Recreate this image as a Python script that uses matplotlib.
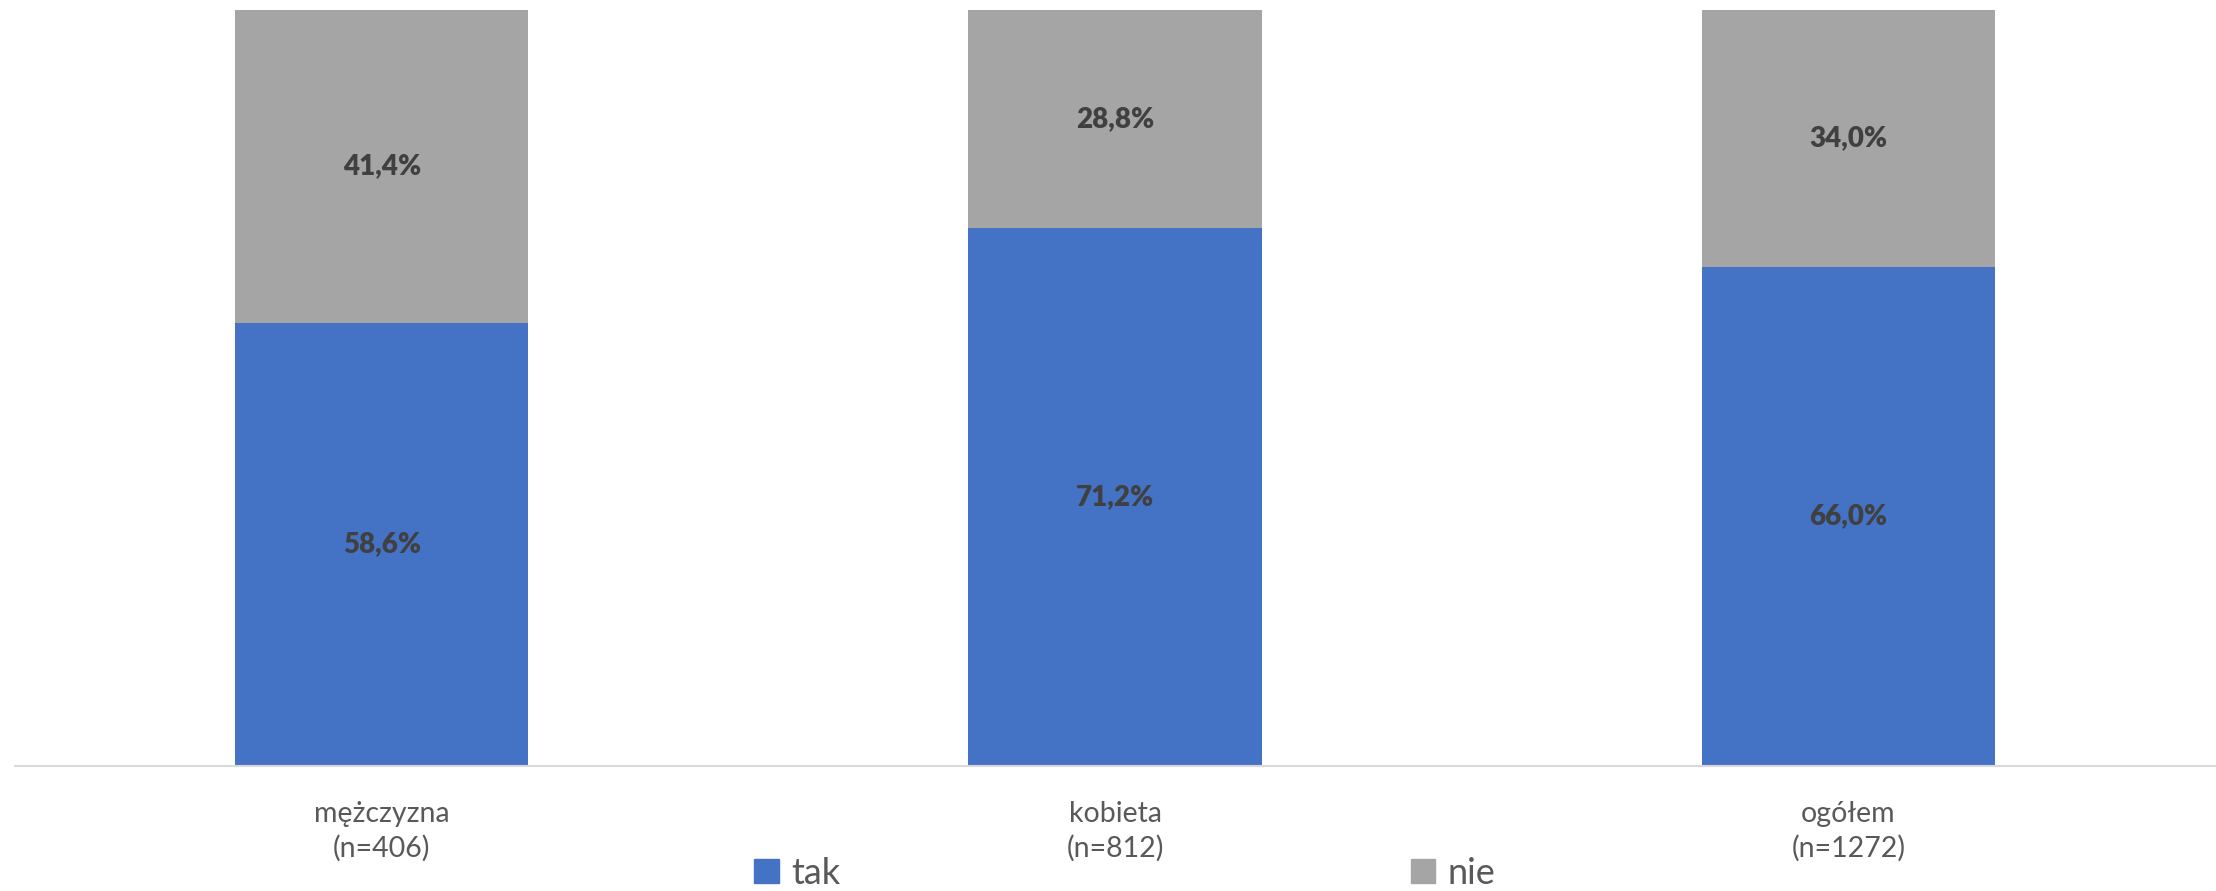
import matplotlib.pyplot as plt
from matplotlib.patches import Patch

# survey answers by group, percent
groups = ['mężczyzna\n(n=406)', 'kobieta\n(n=812)', 'ogółem\n(n=1272)']
tak = [58.6, 71.2, 66.0]
nie = [41.4, 28.8, 34.0]

blue = '#4472C4'
grey = '#A5A5A5'

plt.rcParams['font.family'] = ['Lato', 'DejaVu Sans']

fig = plt.figure(figsize=(22.16, 8.91), dpi=100)
ax = fig.add_axes([0.0068, 0.1403, 0.9928, 0.8485])

x = range(len(groups))
b1 = ax.bar(x, tak, width=0.4, color=blue)
b2 = ax.bar(x, nie, width=0.4, bottom=tak, color=grey)

def fmt(v):
    return f'{v:.1f}'.replace('.', ',') + '%'

for bars, vals in [(b1, tak), (b2, nie)]:
    ax.bar_label(bars, labels=[fmt(v) for v in vals], label_type='center',
                 fontsize=20, fontweight='heavy', color='#404040')

ax.set_xlim(-0.5, 2.5)
ax.set_ylim(0, 100)
ax.set_xticks(list(x))
ax.set_xticklabels(groups, fontsize=20.5, color='#595959', linespacing=1.35)
ax.tick_params(axis='x', length=0, pad=25)
ax.set_yticks([])
for s in ['top', 'right', 'left']:
    ax.spines[s].set_visible(False)
ax.spines['bottom'].set_color('#D9D9D9')
ax.spines['bottom'].set_linewidth(1.5)

handles = [Patch(color=blue, label='tak'), Patch(color=grey, label='nie')]
leg = fig.legend(handles=handles, loc='center', bbox_to_anchor=(0.5075, 0.02),
                 ncol=2, frameon=False, fontsize=26, handlelength=0.68,
                 handleheight=0.68, handletextpad=0.33, columnspacing=15.8,
                 borderpad=0, borderaxespad=0)
for t in leg.get_texts():
    t.set_color('#595959')

fig.savefig('out.png', dpi=100)
